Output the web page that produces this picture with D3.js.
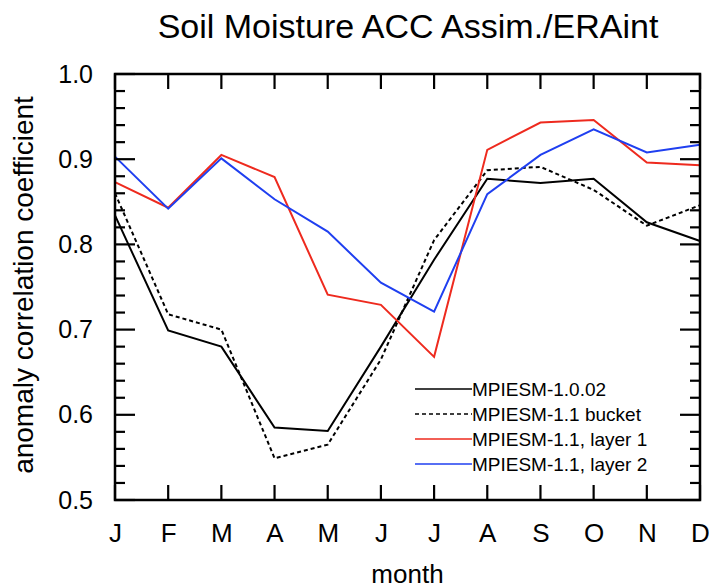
<!DOCTYPE html>
<html>
<head>
<meta charset="utf-8">
<script src="https://cdn.jsdelivr.net/npm/d3@7"></script>
<style>
  body { margin: 0; background: #fff; }
  svg text { font-family: "Liberation Sans", Arial, Helvetica, sans-serif; fill: #000; }
</style>
</head>
<body>
<script>
const months = ['J', 'F', 'M', 'A', 'M', 'J', 'J', 'A', 'S', 'O', 'N', 'D'];

const mpiesm102 = [0.834, 0.699, 0.680, 0.585, 0.581, 0.680, 0.782, 0.877, 0.872, 0.877, 0.826, 0.804];
const bucket = [0.860, 0.718, 0.700, 0.549, 0.565, 0.665, 0.805, 0.887, 0.891, 0.864, 0.822, 0.846];
const layer1 = [0.873, 0.843, 0.905, 0.879, 0.741, 0.729, 0.668, 0.911, 0.943, 0.946, 0.896, 0.893];
const layer2 = [0.903, 0.842, 0.901, 0.853, 0.815, 0.755, 0.721, 0.859, 0.905, 0.935, 0.908, 0.917];

const seriesNames = ['MPIESM-1.0.02', 'MPIESM-1.1 bucket', 'MPIESM-1.1, layer 1', 'MPIESM-1.1, layer 2'];
const seriesColors = ['#000000', '#000000', '#ee2a1e', '#1f3ff0'];
const seriesDash = [null, '4,3', null, null];

const yMajor = [0.5, 0.6, 0.7, 0.8, 0.9, 1.0];
const yMinor = [0.52, 0.54, 0.56, 0.58, 0.62, 0.64, 0.66, 0.68, 0.72, 0.74, 0.76, 0.78,
                0.82, 0.84, 0.86, 0.88, 0.92, 0.94, 0.96, 0.98];

const width = 709, height = 588;
const plotLeft = 115, plotRight = 700, plotTop = 74, plotBottom = 500;

const svg = d3.select('body').append('svg')
    .attr('width', width)
    .attr('height', height);

const x = d3.scaleLinear().domain([0, 11]).range([plotLeft, plotRight]);
const y = d3.scaleLinear().domain([0.5, 1.0]).range([plotBottom, plotTop]);

// tick labels from d3 axes
svg.append('g')
    .attr('transform', `translate(${plotLeft},0)`)
    .call(d3.axisLeft(y).tickValues(yMajor).tickFormat(d3.format('.1f'))
        .tickSize(0).tickPadding(22))
    .call(g => g.select('.domain').remove())
    .call(g => g.selectAll('text').attr('font-size', 25));

svg.append('g')
    .attr('transform', `translate(0,${plotBottom})`)
    .call(d3.axisBottom(x).tickValues(d3.range(12)).tickFormat(i => months[i])
        .tickSize(0).tickPadding(24))
    .call(g => g.select('.domain').remove())
    .call(g => g.selectAll('text').attr('font-size', 26));

// data lines
const line = d3.line().x((d, i) => x(i)).y(d => y(d));
const allSeries = [mpiesm102, bucket, layer1, layer2];

svg.append('g')
    .selectAll('path')
    .data(allSeries)
    .join('path')
    .attr('d', d => line(d))
    .attr('fill', 'none')
    .attr('stroke', (d, i) => seriesColors[i])
    .attr('stroke-width', 2)
    .attr('stroke-dasharray', (d, i) => seriesDash[i]);

// frame
svg.append('rect')
    .attr('x', plotLeft)
    .attr('y', plotTop)
    .attr('width', plotRight - plotLeft)
    .attr('height', plotBottom - plotTop)
    .attr('fill', 'none')
    .attr('stroke', '#000')
    .attr('stroke-width', 2.5);

// inward tick marks, drawn on top
const tickMarks = [];
yMajor.forEach(v => {
    tickMarks.push([plotLeft, y(v), plotLeft + 20, y(v)]);
    tickMarks.push([plotRight, y(v), plotRight - 20, y(v)]);
});
yMinor.forEach(v => {
    tickMarks.push([plotLeft, y(v), plotLeft + 10, y(v)]);
    tickMarks.push([plotRight, y(v), plotRight - 10, y(v)]);
});
d3.range(12).forEach(i => {
    tickMarks.push([x(i), plotBottom, x(i), plotBottom - 15]);
    tickMarks.push([x(i), plotTop, x(i), plotTop + 15]);
});
svg.append('g')
    .selectAll('line')
    .data(tickMarks)
    .join('line')
    .attr('x1', d => d[0])
    .attr('y1', d => d[1])
    .attr('x2', d => d[2])
    .attr('y2', d => d[3])
    .attr('stroke', '#000')
    .attr('stroke-width', 2.2);

// legend
const legend = svg.append('g');
seriesNames.forEach((name, i) => {
    const ly = 389 + i * 25;
    legend.append('line')
        .attr('x1', 415).attr('x2', 472)
        .attr('y1', ly).attr('y2', ly)
        .attr('stroke', seriesColors[i])
        .attr('stroke-width', 1.5)
        .attr('stroke-dasharray', seriesDash[i]);
    legend.append('text')
        .attr('x', 472)
        .attr('y', ly + 7)
        .attr('font-size', 19)
        .text(name);
});

// titles
svg.append('text')
    .attr('x', 408)
    .attr('y', 38)
    .attr('text-anchor', 'middle')
    .attr('font-size', 34)
    .text('Soil Moisture ACC Assim./ERAint');

svg.append('text')
    .attr('x', (plotLeft + plotRight) / 2)
    .attr('y', 583)
    .attr('text-anchor', 'middle')
    .attr('font-size', 26)
    .text('month');

svg.append('text')
    .attr('transform', `translate(33,285) rotate(-90)`)
    .attr('text-anchor', 'middle')
    .attr('font-size', 28)
    .text('anomaly correlation coefficient');
</script>
</body>
</html>
